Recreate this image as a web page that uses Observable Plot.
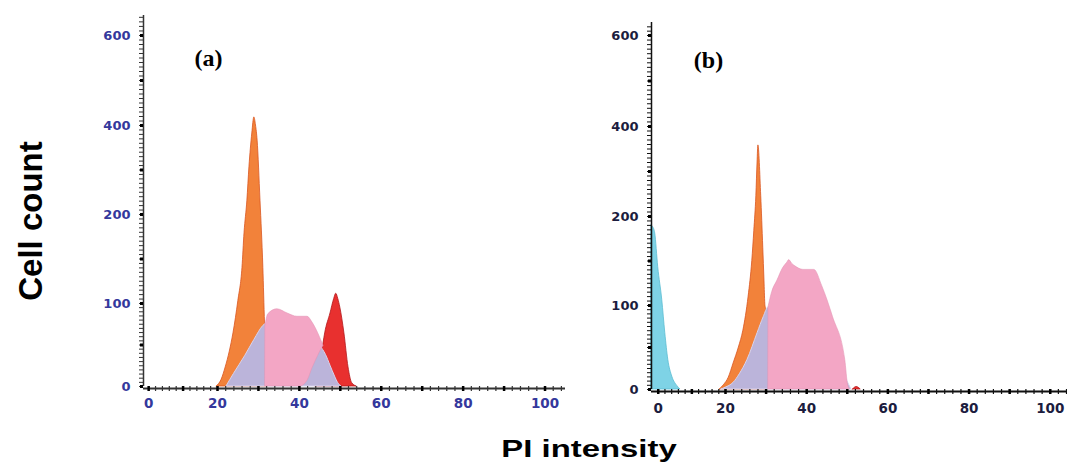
<!DOCTYPE html>
<html><head><meta charset="utf-8">
<script src="https://cdn.jsdelivr.net/npm/d3@7"></script>
<script src="https://cdn.jsdelivr.net/npm/@observablehq/plot@0.6"></script>
<style>
html,body{margin:0;padding:0;background:#fff;}
body{width:1067px;height:467px;position:relative;overflow:hidden;font-family:"Liberation Sans",Arial,sans-serif;}
#pa{position:absolute;left:90px;top:0;}
#pb{position:absolute;left:600px;top:0;}
#ylab{position:absolute;left:31px;top:221px;transform:translate(-50%,-50%) rotate(-90deg);font-weight:bold;font-size:33px;white-space:nowrap;color:#000;}
#xlab{position:absolute;left:589px;top:449px;transform:translate(-50%,-50%) scaleX(1.37);font-weight:bold;font-size:24px;white-space:nowrap;color:#000;}
</style></head>
<body>
<div id="pa"></div><div id="pb"></div>
<div id="ylab">Cell count</div>
<div id="xlab">PI intensity</div>
<script>
// ---- tick labels ----
const yTickValues = [0, 100, 200, 400, 600];
const yTickLabels = ["0", "100", "200", "400", "600"];
const xTickValues = [0, 20, 40, 60, 80, 100];
const xTickLabels = ["0", "20", "40", "60", "80", "100"];
const panelLabels = ["(a)", "(b)"];

// ---- panel (a) series ----
const aOrangeX = [19.8, 21, 22, 23, 23.9, 25.1, 26.1, 26.6, 27.3, 27.8, 28.5, 29.0, 29.4, 29.8, 30.5, 31.2, 31.6, 32.2];
const aOrangeY = [0, 8, 23, 42, 64, 103, 140, 179, 231, 306, 382, 418, 400, 366, 231, 140, 76, 0];
const aRedX = [44, 45, 45.9, 46.3, 47.6, 48.5, 49, 49.5, 50, 51, 52, 52.9, 54];
const aRedY = [0, 25, 52, 64, 88, 105, 111, 105, 95, 64, 23, 4, 0];
const aLavX = [22.2, 24, 26.8, 29, 31.2, 33, 36, 40, 43, 45.1, 46.5, 47.6, 48.7, 49.5, 50.3];
const aLavY = [0, 15, 37, 56, 73, 78, 80, 76, 62, 49, 38, 25, 12, 4, 0];
const aPinkX = [31.7, 32.4, 34.6, 37.1, 39.5, 40.2, 42.0, 43.2, 44.6, 45.3, 45.9];
const aPinkLo = [0, 0, 0, 0, 0, 0, 7, 22, 37, 44, 49];
const aPinkHi = [73, 87, 93, 88, 84, 84, 84, 77, 64, 56, 49];

// ---- panel (b) series ----
const bBlueX = [-2, -1.5, -0.9, 0, 1.2, 2.1, 3, 4.2, 5.7, 6.6];
const bBlueY = [190, 188, 181, 143, 106, 67, 35, 15, 4, 0];
const bOrangeX = [18.3, 19.5, 20.8, 22.0, 23.3, 24.4, 25.7, 26.6, 27.1, 27.6, 27.9, 28.1, 28.8, 29.3, 29.6, 29.8, 30.0, 30.3];
const bOrangeY = [0, 5, 14, 31, 50, 70, 110, 150, 184, 245, 320, 358, 245, 165, 128, 102, 94, 0];
const bLavX = [18.8, 20, 22, 23.5, 25.4, 27.9, 29.4, 30.6, 33, 38, 43, 47, 49.5, 51];
const bLavY = [0, 2, 8, 18, 35, 67, 86, 98, 100, 90, 70, 40, 15, 0];
const bPinkX = [30.6, 31.5, 32.8, 34.2, 35.2, 35.7, 36.4, 37.2, 39.2, 41.9, 43.8, 46.5, 49.5, 50.2, 50.7];
const bPinkY = [98, 115, 128, 142, 148, 151, 147, 144, 140, 140, 122, 86, 35, 5, 0];
const bRedX = [51.4, 52.3, 53.3];
const bRedY = [0, 3, 0];

const rows = (xs, ys) => xs.map((x, i) => ({x, y: ys[i]}));
const rows2 = (xs, lo, hi) => xs.map((x, i) => ({x, lo: lo[i], hi: hi[i]}));

const COL = {
  orange: "#f2823a", orangeS: "#d9561f",
  lav: "#bbb4da", lavS: "#d8d3ec",
  pink: "#f3a6c5", pinkS: "#e496b6",
  red: "#e8302f", redS: "#b3161a",
  blue: "#7ed3e6", blueS: "#5cbcd2"
};

function panel(cfg) {
  const yMinor = [...d3.range(0, 200, 5), ...d3.range(200, cfg.yTop, 10)];
  const yMajor = [0, 50, 100, 150, 200, 300, 400, 500, 600];
  const xMinor = d3.range(0, 105, 2);
  const xMajor = d3.range(0, 105, 10);
  return Plot.plot({
    width: cfg.width, height: 425,
    marginLeft: cfg.xRange[0], marginRight: cfg.width - cfg.xRange[2],
    marginTop: cfg.yRange[5], marginBottom: 425 - cfg.yRange[0],
    x: {type: "linear", domain: cfg.xDomain, range: cfg.xRange, axis: null},
    y: {type: "linear", domain: [0, 100, 200, 400, 600, cfg.yTop], range: cfg.yRange, axis: null},
    style: {background: "transparent", overflow: "visible"},
    marks: [
      ...cfg.areas,
      // axis lines
      Plot.ruleY([0], {dy: 2, stroke: cfg.axisColor, strokeWidth: 2}),
      Plot.ruleX([cfg.xDomain[0]], {y1: 0, y2: cfg.yTop, stroke: cfg.axisColor, strokeWidth: 1.5}),
      // y ticks
      Plot.axisY({anchor: "left", ticks: yMinor, tickSize: 4, tickFormat: () => "", label: null, stroke: cfg.axisColor, strokeWidth: 1}),
      Plot.axisY({anchor: "left", ticks: yMajor, tickSize: 3, tickFormat: () => "", label: null, stroke: "#000", strokeWidth: 3}),
      // x ticks
      Plot.axisX({anchor: "bottom", ticks: xMinor, tickSize: 5, tickFormat: () => "", label: null, stroke: cfg.axisColor, strokeWidth: 1.2}),
      Plot.axisX({anchor: "bottom", ticks: xMajor, tickSize: 5, tickFormat: () => "", label: null, stroke: "#000", strokeWidth: 2.5}),
      // tick labels
      Plot.text(yTickValues, {y: d => d, text: (d, i) => yTickLabels[i], frameAnchor: "left", dx: -13, textAnchor: "end",
        fill: cfg.labelColor, fontWeight: "bold", fontSize: 13, fontFamily: "DejaVu Sans"}),
      Plot.text(xTickValues, {x: d => d, text: (d, i) => xTickLabels[i], frameAnchor: "bottom", dy: cfg.xLabelDy,
        fill: cfg.labelColor, fontWeight: "bold", fontSize: 13.5, fontFamily: "DejaVu Sans"}),
      // panel label
      Plot.text([cfg.label], {text: d => d, frameAnchor: "top-left", dx: cfg.labelDx, dy: cfg.labelDy, textAnchor: "middle",
        fontFamily: "Liberation Serif", fontWeight: "bold", fontSize: 24, fill: "#000"})
    ]
  });
}

const plotA = panel({
  width: 480,
  xDomain: [-1.5, 20, 105], xRange: [53, 127, 475],
  yTop: 644, yRange: [386, 303, 214, 125, 35, 15],
  axisColor: "#333", labelColor: "#34389c", xLabelDy: 21,
  label: panelLabels[0], labelDx: 65, labelDy: 33,
  areas: [
    Plot.areaY(rows(aOrangeX, aOrangeY), {x: "x", y: "y", fill: COL.orange, stroke: COL.orangeS, strokeWidth: 0.8, curve: "monotone-x"}),
    Plot.areaY(rows(aRedX, aRedY), {x: "x", y: "y", fill: COL.red, stroke: COL.redS, strokeWidth: 0.8, curve: "monotone-x"}),
    Plot.areaY(rows(aLavX, aLavY), {x: "x", y: "y", fill: COL.lav, stroke: COL.lavS, strokeWidth: 1, curve: "monotone-x"}),
    Plot.areaY(rows2(aPinkX, aPinkLo, aPinkHi), {x: "x", y1: "lo", y2: "hi", fill: COL.pink, stroke: COL.pinkS, strokeWidth: 0.6, curve: "monotone-x"})
  ]
});

const plotB = panel({
  width: 467,
  xDomain: [-2, 20, 104], xRange: [51, 125, 466],
  yTop: 630, yRange: [389, 305, 216, 126, 35, 22],
  axisColor: "#111", labelColor: "#1c1c3e", xLabelDy: 23,
  label: panelLabels[1], labelDx: 57, labelDy: 28,
  areas: [
    Plot.areaY(rows(bBlueX, bBlueY), {x: "x", y: "y", fill: COL.blue, stroke: COL.blueS, strokeWidth: 0.8, curve: "monotone-x"}),
    Plot.areaY(rows(bOrangeX, bOrangeY), {x: "x", y: "y", fill: COL.orange, stroke: COL.orangeS, strokeWidth: 0.8, curve: "monotone-x"}),
    Plot.areaY(rows(bLavX, bLavY), {x: "x", y: "y", fill: COL.lav, stroke: COL.lavS, strokeWidth: 1, curve: "monotone-x"}),
    Plot.areaY(rows(bPinkX, bPinkY), {x: "x", y: "y", fill: COL.pink, stroke: COL.pinkS, strokeWidth: 0.6, curve: "monotone-x"}),
    Plot.areaY(rows(bRedX, bRedY), {x: "x", y: "y", fill: COL.red, stroke: COL.redS, strokeWidth: 0.8, curve: "monotone-x"})
  ]
});

document.getElementById("pa").appendChild(plotA);
document.getElementById("pb").appendChild(plotB);
</script>
</body></html>
